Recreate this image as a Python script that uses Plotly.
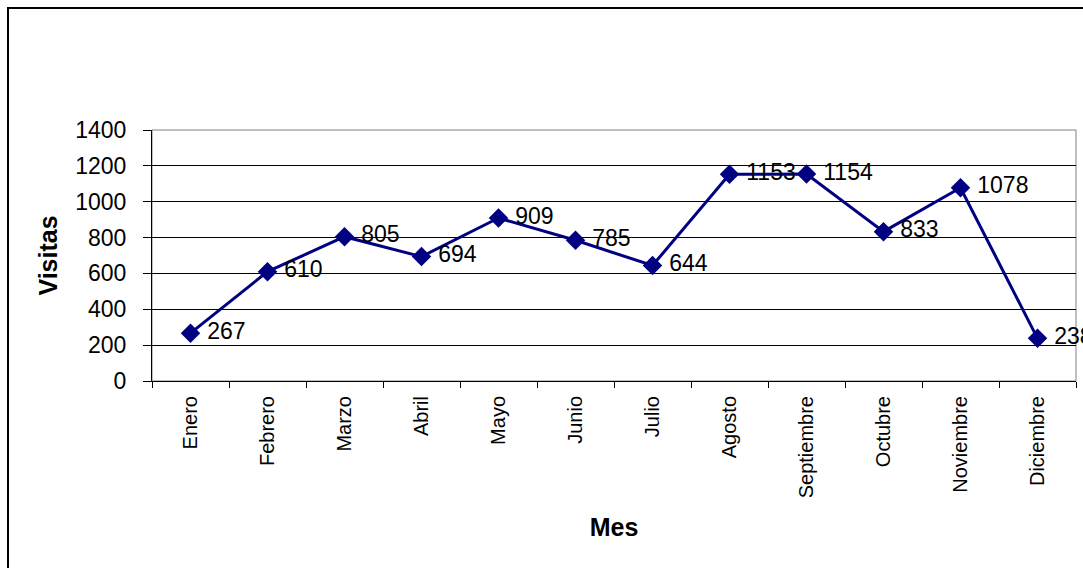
import plotly.graph_objects as go

# Monthly visits
meses = ["Enero", "Febrero", "Marzo", "Abril", "Mayo", "Junio", "Julio",
         "Agosto", "Septiembre", "Octubre", "Noviembre", "Diciembre"]
visitas = [267, 610, 805, 694, 909, 785, 644, 1153, 1154, 833, 1078, 238]
y_ticks = [0, 200, 400, 600, 800, 1000, 1200, 1400]

W, H = 1083, 568
L, R, T, B = 152, 7, 130, 187
plot_w = W - L - R
plot_h = H - T - B

FONT = "Liberation Sans, Arial, sans-serif"
NAVY = "#000080"

fig = go.Figure()
fig.add_trace(go.Scatter(
    x=meses, y=visitas,
    mode="lines+markers+text",
    line=dict(color=NAVY, width=3),
    marker=dict(symbol="diamond", size=15, color=NAVY),
    text=[" " + str(v) for v in visitas],
    textposition="middle right",
    textfont=dict(family=FONT, size=23, color="#000000"),
    cliponaxis=False,
    showlegend=False,
))

# chart frame (paper coordinates relative to the plot area)
def px_x(px):
    return (px - L) / plot_w

def px_y(py):
    return (H - B - py) / plot_h

shapes = [
    dict(type="rect", xref="paper", yref="paper",
         x0=0, x1=1, y0=0, y1=1,
         line=dict(color="#808080", width=1), layer="below"),
    dict(type="rect", xref="paper", yref="paper",
         x0=px_x(8), x1=px_x(W + 20), y0=px_y(H + 20), y1=px_y(8),
         line=dict(color="#000000", width=2), layer="above"),
]

fig.update_layout(
    width=W, height=H,
    margin=dict(l=L, r=R, t=T, b=B, autoexpand=False),
    paper_bgcolor="white", plot_bgcolor="white",
    font=dict(family=FONT, color="#000000"),
    shapes=shapes,
    xaxis=dict(
        type="category",
        range=[-0.5, 11.5],
        showline=True, linecolor="#000000", linewidth=1,
        ticks="outside", tickson="boundaries", ticklen=6,
        tickcolor="#000000", tickwidth=1,
        tickangle=-90, tickfont=dict(size=20),
        ticklabelstandoff=6,
        showgrid=False, zeroline=False,
        title=dict(text="<b>Mes</b>", font=dict(size=25), standoff=21),
    ),
    yaxis=dict(
        range=[0, 1400],
        tickvals=y_ticks,
        showline=True, linecolor="#000000", linewidth=1,
        ticks="outside", ticklen=8, tickcolor="#000000", tickwidth=1,
        tickfont=dict(size=23),
        ticklabelstandoff=12,
        showgrid=True, gridcolor="#000000", gridwidth=1,
        zeroline=False,
        title=dict(text="<b>Visitas</b>", font=dict(size=25), standoff=10),
    ),
)

fig.write_html("out.html")
